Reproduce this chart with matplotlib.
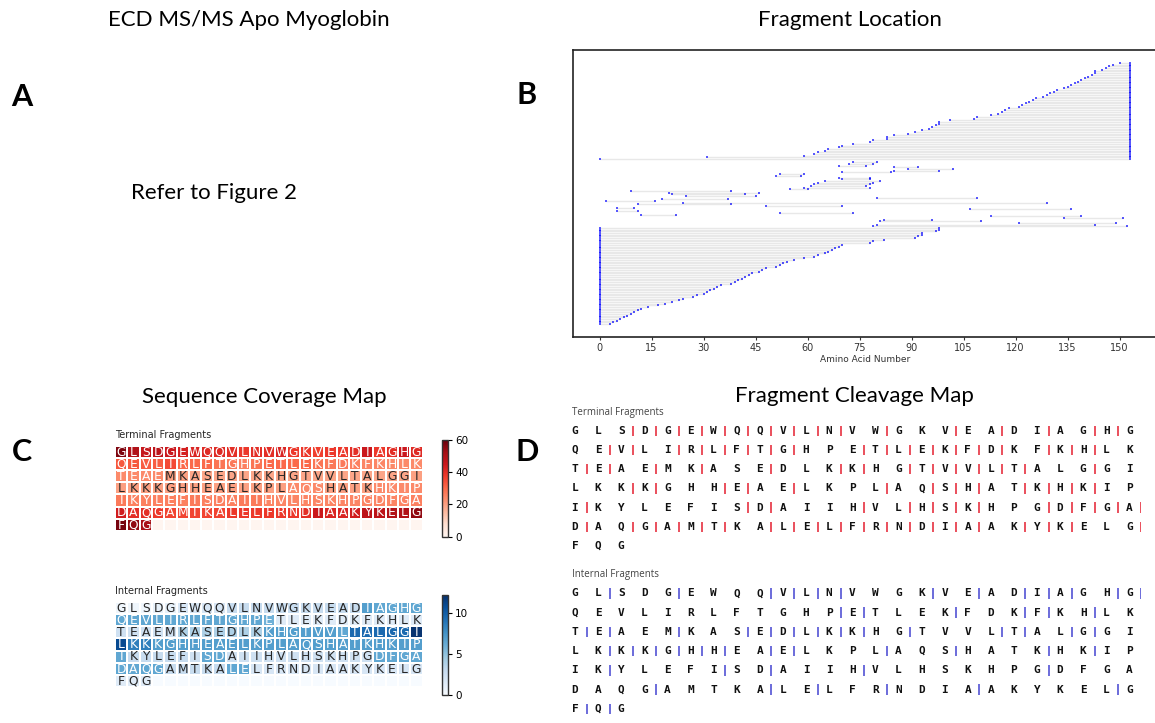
import numpy as np
import matplotlib
matplotlib.use("Agg")
import matplotlib.pyplot as plt
import matplotlib.colors as mcolors

W, H = 1155, 723

# ---------------- data ----------------
sequence = ("GLSDGEWQQVLNVWGKVEADIAGHG"
            "QEVLIRLFTGHPETLEKFDKFKHLK"
            "TEAEMKASEDLKKHGTVVLTALGGI"
            "LKKKGHHEAELKPLAQSHATKHKIP"
            "IKYLEFISDAIIHVLHSKHPGDFGA"
            "DAQGAMTKALELFRNDIAAKYKELG"
            "FQG")

terminal_coverage = (
    [57, 50, 46, 48, 45, 43, 42, 41, 41, 40, 38, 40, 40, 42, 38, 38, 37, 38, 38, 40, 45, 38, 40, 45, 41] +
    [33, 33, 32, 32, 35, 30, 30, 30, 28, 27, 26, 28, 30, 30, 30, 30, 28, 27, 27, 26, 25, 25, 24, 24, 24] +
    [24, 24, 24, 24, 20, 20, 19, 19, 19, 19, 19, 19, 19, 19, 19, 19, 19, 19, 19, 19, 19, 19, 19, 19, 20] +
    [20, 20, 20, 20, 20, 20, 20, 20, 20, 20, 20, 20, 20, 20, 24, 24, 24, 20, 20, 20, 20, 24, 24, 24, 24] +
    [27, 26, 26, 26, 26, 26, 27, 26, 26, 26, 27, 27, 25, 25, 25, 25, 25, 25, 25, 25, 25, 25, 25, 25, 26] +
    [44, 40, 40, 38, 36, 36, 36, 36, 36, 38, 38, 38, 38, 38, 38, 40, 45, 42, 42, 44, 48, 48, 50, 50, 55] +
    [58, 55, 52])

internal_coverage = (
    [0.5, 0.5, 0.5, 1, 1, 2, 2, 2, 2, 3, 3, 3, 3, 3, 3, 3, 3, 3, 3, 3, 7, 6.5, 6.5, 6.5, 6.5] +
    [6.5, 6.5, 6.5, 6.5, 6.5, 6.5, 6.5, 6.5, 6.5, 6.5, 6.5, 6.5, 6, 1.5, 1.5, 1.5, 1.5, 1.5, 1.5, 1.5, 1.5, 1.5, 1.5, 1.5, 1.5] +
    [2.5, 2.5, 2.5, 2.5, 2.5, 4, 4, 4, 4, 4, 4, 4, 7, 7, 7, 7, 7, 7, 6.5, 9.5, 9.5, 9.5, 9.5, 9.5, 12] +
    [11, 8.5, 8.5, 7, 7, 7, 7, 7, 7, 7, 7, 7, 7, 7, 7, 7, 7, 7, 7, 7, 7, 7, 7, 7, 7] +
    [6.5, 3, 3, 3, 3, 3, 2.5, 6.5, 6.5, 2.5, 2.5, 2.5, 2.5, 2.5, 2.5, 2.5, 2.5, 2.5, 2.5, 2.5, 2.5, 6.5, 6.5, 6.5, 6.5] +
    [6.5, 6.5, 6.5, 6.5, 3, 3, 3, 3, 3, 6.5, 6.5, 2, 2, 2, 2, 2, 2, 2, 2, 2, 2, 2, 2, 2, 2] +
    [1.5, 1.5, 1.5])

terminal_cleavage_after = [3, 4, 5, 6, 7, 8, 9, 10, 11, 12, 14, 17, 19, 21, 23, 24,
                           27, 28, 30, 31, 32, 33, 34, 35, 38, 39, 40, 41, 42, 43, 44, 46, 47, 48,
                           51, 52, 54, 56, 59, 62, 63, 65, 66, 67, 68, 69, 70, 73,
                           78, 79, 82, 83, 85, 89, 91, 92, 93, 95, 96, 97, 98,
                           101, 108, 109, 113, 115, 116, 117, 118, 121, 122, 123, 124, 125,
                           126, 128, 129, 130, 131, 132, 134, 135, 136, 137, 138, 139, 140,
                           141, 142, 143, 145, 146, 147, 150]

internal_cleavage_after = [2, 5, 9, 10, 11, 12, 16, 18, 20, 21, 22, 24, 25,
                           37, 38, 42, 45, 46, 48,
                           51, 52, 55, 58, 59, 60, 61, 62, 63, 65, 69, 70, 72, 73,
                           77, 78, 79, 80, 81, 82, 84, 85, 89, 92, 96, 98,
                           102, 107, 109, 113, 121,
                           129, 134, 136, 139, 143, 149,
                           151, 152]

# fragment map (bottom to top)
nterm_end = [3, 4, 5, 6, 7, 8, 9, 10, 11, 12, 14, 17, 19, 21, 23, 24, 27, 28, 30, 31, 32, 33, 34, 35,
             38, 39, 40, 41, 42, 43, 44, 46, 47, 48, 51, 52, 53, 54, 56, 59, 62, 63, 65, 66, 67, 68,
             69, 70, 78, 79, 82, 91, 92, 93, 93, 97, 98, 98]
internal_start = [79, 80, 121, 81, 82, 134, 113, 12, 52, 5, 107, 5, 48, 11, 24, 2, 18, 80, 25, 21,
                  20, 9, 55, 59, 61, 62, 63, 65, 70, 69, 51, 52, 70, 85, 89, 85, 69, 72, 73]
internal_end = [152, 143, 149, 110, 96, 151, 139, 22, 73, 11, 136, 10, 70, 38, 129, 16, 37, 109, 45, 42,
                46, 38, 60, 78, 77, 78, 79, 81, 78, 78, 58, 59, 84, 98, 102, 92, 77, 79, 80]
cterm_start = [0, 31, 59, 62, 63, 65, 66, 69, 70, 73, 78, 79, 83, 83, 85, 89, 91, 93, 95, 96, 97, 98,
               98, 101, 108, 109, 113, 115, 116, 117, 118, 121, 122, 123, 124, 125, 126, 128, 129,
               130, 131, 132, 134, 135, 136, 137, 138, 139, 140, 141, 142, 143, 143, 145, 146, 147,
               148, 150]
protein_length = 153
x_ticks = list(range(0, 151, 15))

# ---------------- figure ----------------
fig = plt.figure(figsize=(W / 100, H / 100), dpi=100)


def fbox(l, t, r, b):
    return [l / W, 1 - b / H, (r - l) / W, (b - t) / H]


def ftext(x, y, s, **kw):
    fig.text(x / W, 1 - y / H, s, **kw)


title_kw = dict(fontsize=16, family="Lato", ha="center", va="center", color="black")
ftext(248.5, 20, "ECD MS/MS Apo Myoglobin", **title_kw)
ftext(850, 20, "Fragment Location", **title_kw)
ftext(264.5, 397, "Sequence Coverage Map", **title_kw)
ftext(854.5, 396, "Fragment Cleavage Map", **title_kw)
ftext(131, 193, "Refer to Figure 2", fontsize=16, family="Lato", ha="left", va="center")

letter_kw = dict(fontsize=22, family="Lato", weight="bold", ha="center", va="center")
ftext(22, 97, "A", **letter_kw)
ftext(527, 95, "B", **letter_kw)
ftext(22, 452, "C", **letter_kw)
ftext(527, 452, "D", **letter_kw)

# ---- Panel B: fragment location ----
axb = fig.add_axes(fbox(573, 50, 1156.5, 337))
n_n = len(nterm_end)
starts = [0] * n_n + internal_start + cterm_start
ends = nterm_end + internal_end + [protein_length] * len(cterm_start)
rows = (list(range(n_n)) + list(range(n_n, n_n + len(internal_start)))
        + list(range(n_n + len(internal_start) + 1,
                     n_n + len(internal_start) + 1 + len(cterm_start))))
axb.hlines(rows, starts, ends, color="#e8e8e8", lw=1.0, zorder=1)
axb.plot(starts, rows, "s", color="blue", alpha=0.65, ms=2.0, mew=0, zorder=2)
axb.plot(ends, rows, "s", color="blue", alpha=0.65, ms=2.0, mew=0, zorder=2)
axb.set_xlim(-7.65, 160.65)
axb.set_ylim(-7.75, 162.75)
axb.set_yticks([])
axb.set_xticks(x_ticks)
axb.tick_params(axis="x", labelsize=7, length=2.5, width=0.8, pad=1.5, colors="#333333")
axb.set_xlabel("Amino Acid Number", fontsize=6.5, labelpad=1.5, color="#333333")
axb.spines["right"].set_visible(False)
for s in ["left", "top", "bottom"]:
    axb.spines[s].set_color("#222222")
    axb.spines[s].set_linewidth(1.2)


# ---- Panel C: heatmaps ----
def rel_lum(rgba):
    rgb = np.array(rgba[:3])
    rgb = np.where(rgb <= .03928, rgb / 12.92, ((rgb + .055) / 1.055) ** 2.4)
    return rgb.dot([.2126, .7152, .0722])


def heatmap(box, cbox, values, cmap, vmax, ticks, title):
    ax = fig.add_axes(fbox(*box))
    grid = np.zeros(175)
    grid[:len(values)] = values
    grid = grid.reshape(7, 25)
    m = ax.pcolormesh(grid, cmap=cmap, vmin=0, vmax=vmax, edgecolors="white", linewidth=1.1)
    ax.set_xlim(0, 25)
    ax.set_ylim(7, 0)
    ax.axis("off")
    cm = plt.get_cmap(cmap)
    for i, aa in enumerate(sequence):
        r, c = divmod(i, 25)
        col = "#262626" if rel_lum(cm(grid[r, c] / vmax)) > .408 else "white"
        ax.text(c + 0.5, r + 0.52, aa, ha="center", va="center", fontsize=8.8, color=col)
    ax.text(0, -0.85, title, ha="left", va="center", fontsize=7, color="#262626")
    cax = fig.add_axes(fbox(*cbox))
    cb = fig.colorbar(m, cax=cax)
    cb.set_ticks(ticks)
    cb.ax.tick_params(labelsize=7.5, length=3, width=0.8, pad=2)
    cb.outline.set_linewidth(1.0)
    cb.outline.set_edgecolor("#333333")


heatmap((115, 445.7, 422.7, 531), (441.7, 440, 448.3, 536.7), terminal_coverage,
        "Reds", 60, [0, 20, 40, 60], "Terminal Fragments")
heatmap((115, 601.7, 422.7, 687.3), (441.7, 595, 448.3, 695), internal_coverage,
        "Blues", 12.2, [0, 5, 10], "Internal Fragments")


# ---- Panel D: cleavage maps ----
def cleavage(box, cleave, color, title, title_y):
    ax = fig.add_axes(fbox(*box))
    ax.set_xlim(-0.5, 24.5)
    ax.set_ylim(6.5, -0.5)
    ax.axis("off")
    for i, aa in enumerate(sequence):
        r, c = divmod(i, 25)
        ax.text(c, r, aa, ha="center", va="center", family="DejaVu Sans Mono",
                weight="bold", fontsize=8, color="#111111")
    for k in cleave:
        r, c = divmod(k - 1, 25)
        ax.plot([c + 0.5, c + 0.5], [r - 0.27, r + 0.27], color=color, lw=1.3,
                solid_capstyle="butt")
    ftext(572, title_y, title, fontsize=7, family="Open Sans", color="#444444",
          ha="left", va="center")


cleavage((563.45, 421.1, 1140.95, 555.6), terminal_cleavage_after, "#e8414f",
         "Terminal Fragments", 412)
cleavage((563.45, 583.66, 1140.95, 718.6), internal_cleavage_after, "#6060d8",
         "Internal Fragments", 575)

fig.savefig("out.png", dpi=100)
